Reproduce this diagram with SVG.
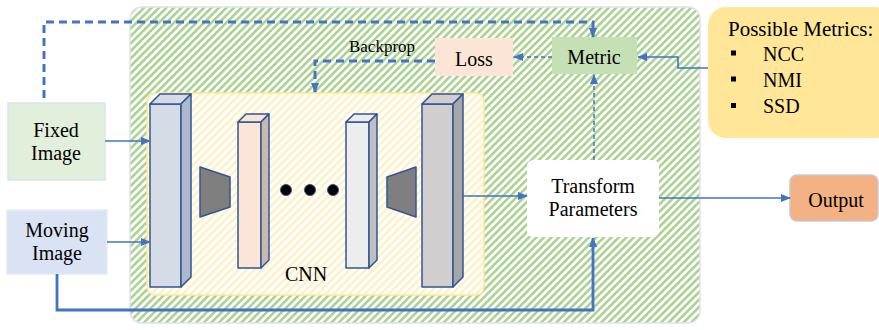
<svg xmlns="http://www.w3.org/2000/svg" width="879" height="330" viewBox="0 0 879 330" font-family="'Liberation Serif', 'DejaVu Serif', serif">
<defs>
<pattern id="green" patternUnits="userSpaceOnUse" width="5.3" height="10" patternTransform="rotate(45)">
<rect x="0" y="0" width="5.3" height="10" fill="#ffffff"/>
<rect x="0" y="0" width="2.5" height="10" fill="#a9d18e"/>
</pattern>
<pattern id="yellow" patternUnits="userSpaceOnUse" width="5.6" height="10" patternTransform="rotate(45)">
<rect x="0" y="0" width="5.6" height="10" fill="#ffffff"/>
<rect x="0" y="0" width="2.4" height="10" fill="#fff0c2"/>
</pattern>
<marker id="arr" markerUnits="userSpaceOnUse" markerWidth="10" markerHeight="10" refX="9" refY="4" orient="auto">
<path d="M0,0 L10,4 L0,8 z" fill="#4472c4"/>
</marker>
</defs>
<style>
text{font-family:'Liberation Serif','DejaVu Serif',serif;fill:#000;}
.t20{font-size:20px;}
.line{fill:none;stroke:#4472c4;stroke-width:1.6;}
.thick{fill:none;stroke:#4472c4;stroke-width:2.8;}
.dthick{fill:none;stroke:#4472c4;stroke-width:3;stroke-dasharray:8 5;}
.dthin{fill:none;stroke:#4472c4;stroke-width:1.5;stroke-dasharray:4 3;}
.blk{stroke:#2f5597;stroke-width:1.5;stroke-linejoin:round;}
</style>

<g id="main-panel">
<rect x="130" y="7" width="570" height="316" rx="12" fill="url(#green)" stroke="#dae3f3" stroke-width="1.5"/>
</g>

<g id="cnn">
<rect x="147" y="93" width="337" height="202" rx="8" fill="url(#yellow)" stroke="#ffe699" stroke-width="1.5"/>
<text class="t20" x="306" y="281" text-anchor="middle">CNN</text>
</g>

<g id="block1">
<rect class="blk" x="150" y="104" width="31" height="183" fill="#d6dce5"/>
<polygon class="blk" points="150,104 160,94 191,94 181,104" fill="#d6dce5"/>
<polygon class="blk" points="181,104 191,94 191,277 181,287" fill="#adb9ca"/>
</g>
<g id="trap1">
<polygon class="blk" points="200,167 230,177 230,207 200,217" fill="#7f7f7f"/>
</g>
<g id="block2">
<rect class="blk" x="238" y="122" width="23" height="146" fill="#fbe5d6"/>
<polygon class="blk" points="238,122 246,114 269,114 261,122" fill="#fbe5d6"/>
<polygon class="blk" points="261,122 269,114 269,260 261,268" fill="#c9b8ad"/>
</g>
<g id="dots">
<circle cx="286" cy="190" r="5.5" fill="#000" stroke="#2f5597" stroke-width="1"/>
<circle cx="310" cy="190" r="5.5" fill="#000" stroke="#2f5597" stroke-width="1"/>
<circle cx="333" cy="190" r="5.5" fill="#000" stroke="#2f5597" stroke-width="1"/>
</g>
<g id="block3">
<rect class="blk" x="346" y="122" width="23" height="146" fill="#ededed"/>
<polygon class="blk" points="346,122 354,114 377,114 369,122" fill="#ededed"/>
<polygon class="blk" points="369,122 377,114 377,260 369,268" fill="#bfbfbf"/>
</g>
<g id="trap2">
<polygon class="blk" points="387,177 416,167 416,217 387,207" fill="#7f7f7f"/>
</g>
<g id="block4">
<rect class="blk" x="422" y="104" width="31" height="183" fill="#d0cece"/>
<polygon class="blk" points="422,104 432,94 463,94 453,104" fill="#d0cece"/>
<polygon class="blk" points="453,104 463,94 463,277 453,287" fill="#a6a6a6"/>
</g>

<g id="fixed-image">
<rect x="8" y="103" width="97" height="77" fill="#e2efda" stroke="#dae3f3" stroke-width="1.5"/>
<text class="t20" x="56" y="137" text-anchor="middle">Fixed</text>
<text class="t20" x="56" y="160" text-anchor="middle">Image</text>
</g>

<g id="moving-image">
<rect x="7" y="210" width="100" height="64" fill="#dae3f3" stroke="#e4eaf5" stroke-width="1.5"/>
<text class="t20" x="57" y="237" text-anchor="middle">Moving</text>
<text class="t20" x="57" y="260" text-anchor="middle">Image</text>
</g>

<g id="loss">
<rect x="435" y="38" width="78" height="38" fill="#fbe5d6"/>
<text class="t20" x="474" y="66" text-anchor="middle">Loss</text>
</g>

<g id="metric">
<rect x="552" y="37" width="85" height="37" fill="#c5e0b4"/>
<text class="t20" x="594" y="64" text-anchor="middle">Metric</text>
</g>

<g id="possible-metrics">
<rect x="708" y="7" width="185" height="131" rx="18" fill="#ffe699"/>
<text x="728" y="36" style="font-size:21px">Possible Metrics:</text>
<rect x="731" y="50.5" width="5" height="5" fill="#000"/>
<rect x="731" y="76.5" width="5" height="5" fill="#000"/>
<rect x="731" y="103" width="5" height="5" fill="#000"/>
<text class="t20" x="763" y="61">NCC</text>
<text class="t20" x="763" y="87">NMI</text>
<text class="t20" x="763" y="113">SSD</text>
</g>

<g id="transform-parameters">
<rect x="527" y="160" width="132" height="77" rx="6" fill="#ffffff"/>
<text class="t20" x="593" y="193" text-anchor="middle">Transform</text>
<text class="t20" x="593" y="216" text-anchor="middle">Parameters</text>
</g>

<g id="output">
<rect x="790" y="175" width="88" height="46" rx="7" fill="#f4b183" stroke="#c9c9c9" stroke-width="1.5"/>
<text class="t20" x="836" y="207" text-anchor="middle">Output</text>
</g>

<g id="connectors">
<path class="line" d="M105,141 H150" marker-end="url(#arr)"/>
<path class="line" d="M107,242 H150" marker-end="url(#arr)"/>
<path class="thick" d="M57,274 V310 H593 V238" marker-end="url(#arr)"/>
<path class="line" d="M463,196 H527" marker-end="url(#arr)"/>
<path class="line" d="M659,198 H790" marker-end="url(#arr)"/>
<path class="dthin" d="M594,160 V75" marker-end="url(#arr)"/>
<path class="dthin" d="M552,57 H514" marker-end="url(#arr)"/>
<path class="line" d="M708,68 H678 V57 H638" marker-end="url(#arr)"/>
<path class="dthick" d="M44,98 V22 H593 V37" marker-end="url(#arr)"/>
<path class="dthick" d="M435,61 H315 V92" marker-end="url(#arr)"/>
<text x="382" y="52" text-anchor="middle" style="font-size:17px">Backprop</text>
</g>
</svg>
